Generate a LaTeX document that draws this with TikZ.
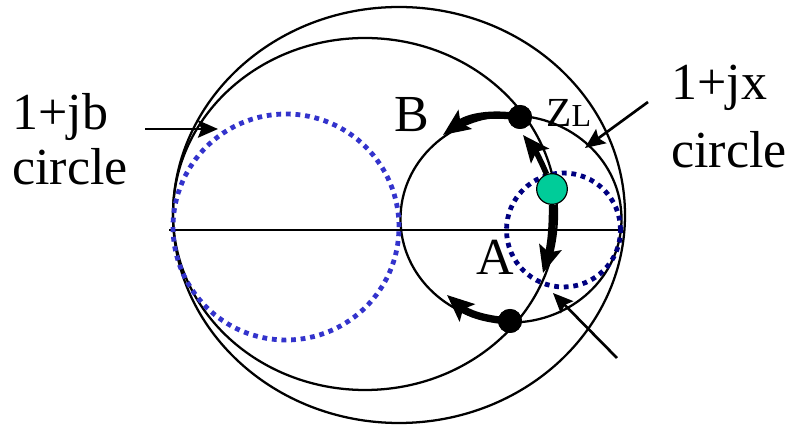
\documentclass[tikz,border=0pt]{standalone}
\usepackage{fontspec}
\setmainfont{Liberation Serif}
\usetikzlibrary{arrows.meta, positioning}
\definecolor{dotblue}{RGB}{51,51,204}
\definecolor{navy}{RGB}{0,0,128}
\definecolor{loadgreen}{RGB}{0,204,153}

\begin{document}
\begin{tikzpicture}[x=0.75pt, y=0.75pt, every node/.style={font=\fontsize{39}{41}\selectfont, inner sep=0pt},
  thincirc/.style={line width=1.7pt},
  dotcirc/.style={line width=3.6pt, dash pattern=on 3.6pt off 3.6pt},
  move/.style={line width=5.5pt, -{Stealth[length=20pt, width=17pt, inset=4pt]}},
  pointer/.style={line width=2pt, -{Stealth[length=15pt, width=13pt, inset=2.5pt]}},
  spot/.style={circle, fill=black, minimum size=18pt}]
  \useasboundingbox (0,0) rectangle (794,425);

  % circles of the chart
  \draw[thincirc] (399,210) ellipse [x radius=226, y radius=208];
  \draw[thincirc] (365,211) ellipse [x radius=192, y radius=176];
  \draw[thincirc] (511,206) ellipse [x radius=110.5, y radius=103.5];
  \draw[line width=1.8pt] (169,195) -- (621,195);
  \draw[dotcirc, dotblue] (286,198) circle [radius=113];
  \draw[dotcirc, navy] (563.5,195) circle [radius=57];

  % points
  \coordinate (tipB) at (443,290);
  \coordinate (tipUp) at (523,290);
  \coordinate (tipA) at (543,152);
  \coordinate (tipBot) at (447,130);
  \node[spot] (zl) at (520,308) {};
  \node[spot] (bot) at (510,104) {};
  \node[circle, draw=black, line width=0.9pt, fill=loadgreen, minimum size=23pt] (load) at (552,236) {};

  \draw[move] (zl.center) to[bend right=22] (tipB);
  \draw[move] (bot.center) to[bend left=19] (tipBot);
  \draw[move, line width=4.2pt] (load) to[bend right=8] (tipUp);
  \draw[move] (load) to[bend left=8] (tipA);
  \node[spot] at (zl) {};
  \node[spot] at (bot) {};

  % labels
  \node[anchor=base west] (jb) at (12,295) {1+jb};
  \node[anchor=base west] (jbc) at (12,240) {circle};
  \node[anchor=base west] (jx) at (671,325) {1+jx};
  \node[anchor=base west] (jxc) at (671,257) {circle};
  \node[anchor=base west] (lblB) at (394,293) {B};
  \node[anchor=base west] (lblA) at (476,150) {A};
  \node[anchor=base west] (lblZ) at (546,298) {\fontsize{31}{31}\selectfont Z\fontsize{24}{24}\selectfont L};

  % pointers
  \coordinate (jbfrom) at (145,296);
  \coordinate (jbto) at (218,296);
  \coordinate (jxfrom) at (648,323);
  \coordinate (jxto) at (585,277);
  \coordinate (lowfrom) at (617,67);
  \coordinate (lowto) at (553,132);
  \draw[pointer] (jbfrom) -- (jbto);
  \draw[pointer] (jxfrom) -- (jxto);
  \draw[pointer] (lowfrom) -- (lowto);
\end{tikzpicture}
\end{document}
